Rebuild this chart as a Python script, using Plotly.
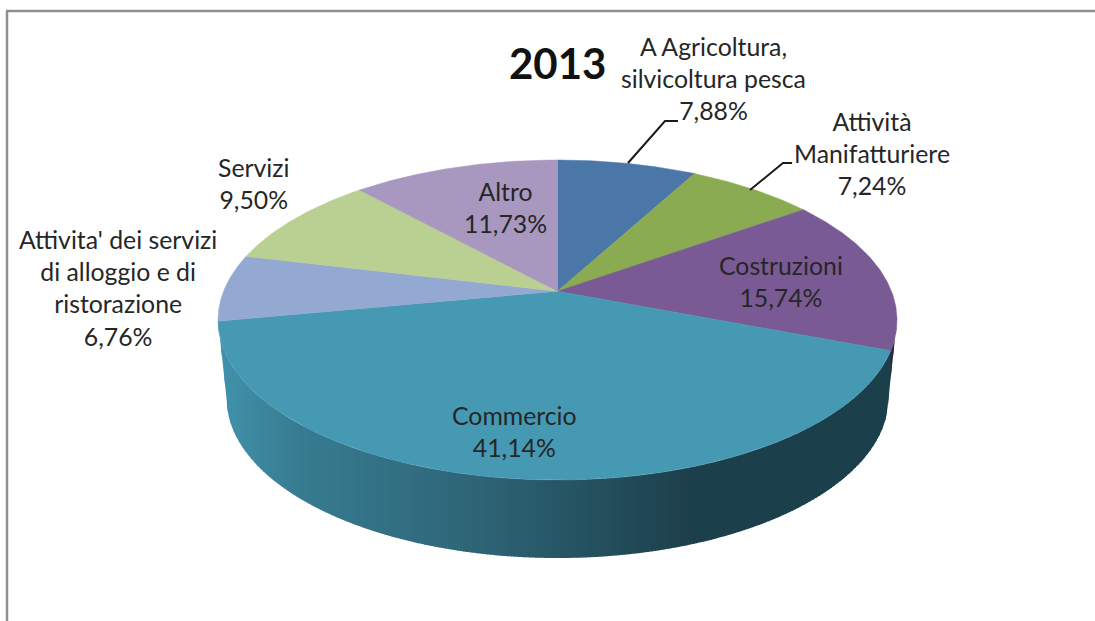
import numpy as np
import plotly.graph_objects as go

# ---- data ----
title = "2013"
categories = ["A Agricoltura,<br>silvicoltura pesca", "Attività<br>Manifatturiere", "Costruzioni",
              "Commercio", "Attivita' dei servizi<br>di alloggio e di<br>ristorazione", "Servizi", "Altro"]
values = [7.88, 7.24, 15.74, 41.14, 6.76, 9.50, 11.73]
colors = ["#4a76a8", "#8bab52", "#7a5a94", "#4599b3", "#94a9d2", "#bacf92", "#a898bf"]
label_x = [713, 872, 781, 514, 118, 253, 505]
label_y = [78, 153, 281.5, 431, 288, 183, 207]
leaders = [([628, 665, 678], [163, 121, 121]), ([750, 783, 792], [190, 163, 163])]

# ---- pie geometry (pixel space) ----
CX, CY, RX, RY = 557.5, 320, 339.5, 160   # top face ellipse
BCY, BRX, BRY = 398, 331, 160             # bottom rim ellipse
K = 0.18                                  # perspective shift of the pie centre
shade_x = [218, 300, 400, 490, 550, 690, 897]
shade_f = [0.96, 0.81, 0.73, 0.65, 0.58, 0.42, 0.42]


def project(theta):
    """True angle clockwise from 12 o'clock -> point on unit circle seen in perspective."""
    x, v = np.sin(theta), np.cos(theta)
    d = 1 + K * v
    return x * np.sqrt(1 - K * K) / d, (v + K) / d


def hex_rgb(c):
    return [int(c[i:i + 2], 16) for i in (1, 3, 5)]


def rim_top(x):
    return CY + RY * np.sqrt(np.clip(1 - ((x - CX) / RX) ** 2, 0, 1))


def rim_bottom(x):
    x = np.asarray(x, dtype=float)
    d = np.abs(x - CX)
    inner = BCY + BRY * np.sqrt(np.clip(1 - (d / BRX) ** 2, 0, 1))
    outer = CY + (BCY - CY) * (RX - d) / (RX - BRX)
    return np.where(d <= BRX, inner, np.clip(outer, CY, BCY))


fig = go.Figure()
edges = np.cumsum([0] + values) / sum(values) * 2 * np.pi

# side wall: vertical bands, painted left to right, each overlapping the next
spans = []
for i, col in enumerate(colors):
    px, pv = project(np.linspace(edges[i], edges[i + 1], 400))
    vis = pv <= 0
    if vis.any():
        spans.append((CX + RX * px[vis].min(), CX + RX * px[vis].max(), col))
spans.sort()
for x0, x1, col in spans:
    n = max(1, int(np.ceil((x1 - x0) / 3)))
    cuts = np.linspace(x0, x1, n + 1)
    for a, b in zip(cuts[:-1], cuts[1:]):
        b2 = min(b + 1, CX + RX)
        xx = np.linspace(a, b2, 3)
        xs = list(xx) + list(xx[::-1])
        ys = list(rim_top(xx)) + list(rim_bottom(xx[::-1]))
        f = np.interp((a + b) / 2, shade_x, shade_f)
        rgb = "rgb({},{},{})".format(*[int(c * f) for c in hex_rgb(col)])
        fig.add_trace(go.Scatter(x=xs, y=ys, mode="none", fill="toself", fillcolor=rgb,
                                 hoverinfo="skip", showlegend=False))

# top face slices
for i, col in enumerate(colors):
    th = np.linspace(edges[i], edges[i + 1], 120)
    px, pv = project(th)
    xs = [CX] + list(CX + RX * px) + [CX]
    ys = [CY - RY * K] + list(CY - RY * pv) + [CY - RY * K]
    fig.add_trace(go.Scatter(x=xs, y=ys, mode="lines", fill="toself", fillcolor=col,
                             line=dict(color=col, width=0.5), name=categories[i].replace("<br>", " "),
                             hoverinfo="name", showlegend=False))

# leader lines
for lx, ly in leaders:
    fig.add_trace(go.Scatter(x=lx, y=ly, mode="lines", line=dict(color="#1a1a1a", width=2),
                             hoverinfo="skip", showlegend=False))

# labels
for c, v, x, y in zip(categories, values, label_x, label_y):
    fig.add_annotation(x=x, y=y, xref="x", yref="y", showarrow=False, align="center",
                       text=f"{c}<br>{v:.2f}%".replace(".", ","), xanchor="center", yanchor="middle",
                       font=dict(family="Lato", size=24.8, color="#262626"))
fig.add_annotation(x=557, y=63, xref="x", yref="y", showarrow=False, text=f"<b>{title}</b>",
                   font=dict(family="Lato", size=42, color="#111111"))

# frame
fig.add_shape(type="line", x0=7, x1=7, y0=621, y1=11, line=dict(color="#8f8f8f", width=2.5))
fig.add_shape(type="line", x0=6, x1=1095, y0=11, y1=11, line=dict(color="#8f8f8f", width=2.5))

fig.update_layout(width=1095, height=621, margin=dict(l=0, r=0, t=0, b=0),
                  paper_bgcolor="white", plot_bgcolor="white", showlegend=False,
                  xaxis=dict(range=[0, 1095], visible=False, fixedrange=True),
                  yaxis=dict(range=[621, 0], visible=False, fixedrange=True))
fig.write_html("out.html", config=dict(displayModeBar=False),
               post_script="document.body.style.margin='0';document.body.style.overflow='hidden';")
